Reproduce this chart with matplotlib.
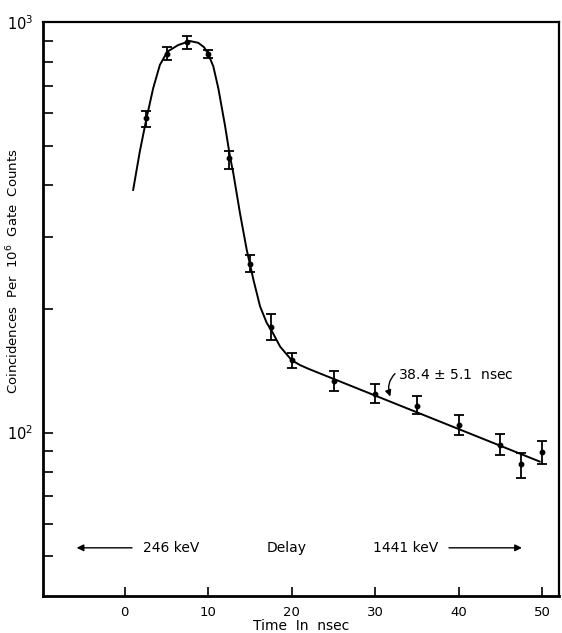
import matplotlib
matplotlib.use("Agg")
import matplotlib.pyplot as plt
from matplotlib.ticker import NullFormatter, NullLocator

# measured coincidence rates (per 10^6 gate counts) vs delay time
delay = [2.5, 5, 7.5, 10, 12.5, 15, 17.5, 20, 25, 30, 35, 40, 45, 47.5, 50]
rate = [583, 838, 896, 834, 466, 257, 181, 150, 133.6, 124, 116.4, 104.6, 93.5, 83.8, 89.6]
err_low = [27, 30, 38, 15, 27, 11, 13, 6.3, 7, 6, 5.4, 5.7, 5.5, 6.2, 5.6]
err_high = [24, 33, 29, 21, 19, 14, 13, 6, 7.3, 7, 6.2, 6, 5.5, 5.2, 5.9]

# hand-drawn fit curve
curve_t = [1.0, 1.8, 2.6, 3.4, 4.2, 5.1, 6.4, 7.8, 8.8, 9.5, 10.0, 10.6, 11.2, 12.0,
           12.6, 13.0, 13.8, 14.6, 15.4, 16.2, 17.0, 17.6, 18.6, 20.0, 21.0, 22.0, 49.7]
curve_y = [390, 484, 583, 690, 786, 847, 879, 899, 890, 868, 835, 780, 690, 560,
           470, 428, 342, 279, 236, 203, 185, 177, 162, 150, 146, 143, 85]

y_major = [100, 1000]
y_major_labels = ["$10^2$", "$10^3$"]
y_minor = [50, 60, 70, 80, 90, 200, 300, 400, 500, 600, 700, 800, 900]
x_ticks = [0, 10, 20, 30, 40, 50]

fig = plt.figure(figsize=(5.62, 6.33), dpi=100)
ax = fig.add_axes([0.0765, 0.0585, 0.918, 0.9067])

ax.set_yscale("log")
ax.set_xlim(-9.8, 52)
ax.set_ylim(40, 1000)

ax.plot(curve_t, curve_y, color="black", lw=1.4)
ax.errorbar(delay, rate, yerr=[err_low, err_high], fmt="o", color="black",
            ms=3.2, elinewidth=1.3, capsize=3.5, capthick=1.3)

# axes styling
for side in ["left", "bottom"]:
    ax.spines[side].set_linewidth(2.0)
for side in ["top", "right"]:
    ax.spines[side].set_linewidth(1.6)

ax.set_yticks(y_major, y_major_labels)
ax.set_yticks(y_minor, minor=True)
ax.yaxis.set_minor_formatter(NullFormatter())
ax.set_xticks(x_ticks, [str(t) for t in x_ticks])
ax.xaxis.set_minor_locator(NullLocator())
ax.tick_params(axis="y", which="both", direction="in", length=7, width=1.2,
               labelsize=10.5, pad=7, right=False)
ax.tick_params(axis="x", which="both", direction="in", length=6.5, width=1.2,
               labelsize=9.5, pad=7, top=False)

ax.set_ylabel("Coincidences  Per  $10^6$  Gate  Counts", fontsize=9.5)
ax.yaxis.set_label_coords(-0.043, 0.565)
ax.set_xlabel("Time  In  nsec", fontsize=10, labelpad=0.5)

# annotations
ax.annotate("", xy=(-6.1, 52.4), xytext=(1.2, 52.4),
            arrowprops=dict(arrowstyle="-|>", color="black", lw=1.0, mutation_scale=10))
ax.text(2.2, 52.4, "246 keV", fontsize=10, ha="left", va="center")
ax.text(19.4, 52.4, "Delay", fontsize=10, ha="center", va="center")
ax.text(29.7, 52.4, "1441 keV", fontsize=10, ha="left", va="center")
ax.annotate("", xy=(47.9, 52.4), xytext=(38.5, 52.4),
            arrowprops=dict(arrowstyle="-|>", color="black", lw=1.0, mutation_scale=10))

ax.annotate("38.4 $\\pm$ 5.1  nsec", xy=(31.8, 122.4), xytext=(32.7, 138.4),
            fontsize=10, ha="left", va="center",
            arrowprops=dict(arrowstyle="-|>", color="black", lw=1.0, mutation_scale=9,
                            connectionstyle="arc3,rad=0.35", relpos=(0, 0.75),
                            shrinkA=0, shrinkB=0))

fig.savefig("out.png", dpi=100)
